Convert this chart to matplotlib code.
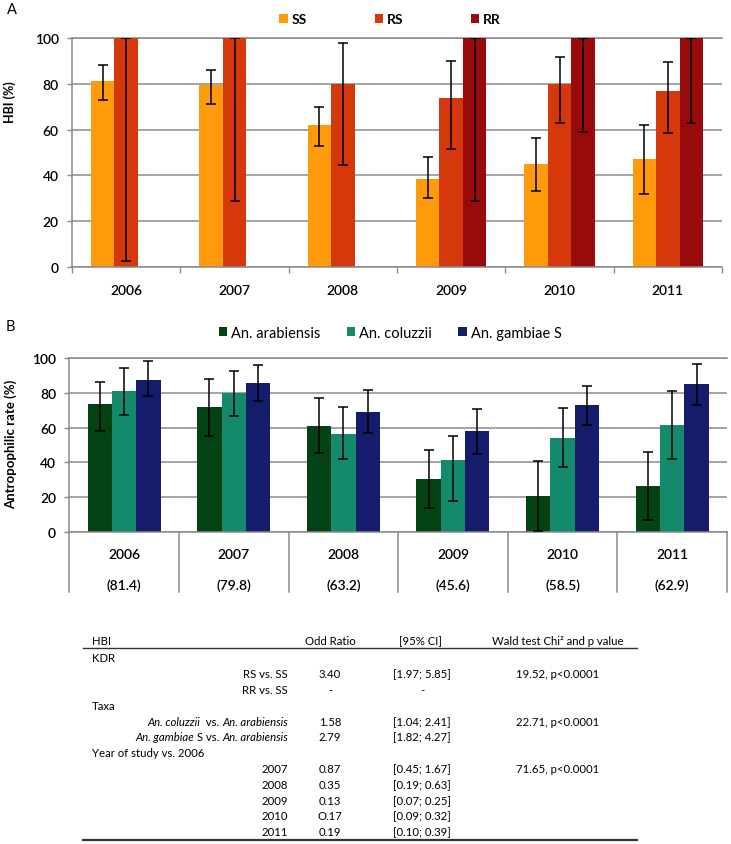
import numpy as np
import matplotlib.pyplot as plt
from matplotlib.lines import Line2D

plt.rcParams['font.family'] = ['Lato', 'DejaVu Sans']

W, H = 731, 845
nan = np.nan

years = ['2006', '2007', '2008', '2009', '2010', '2011']
overall_rate = ['(81.4)', '(79.8)', '(63.2)', '(45.6)', '(58.5)', '(62.9)']

# panel A: HBI by kdr genotype, with 95% CI bounds
ss = [81.4, 79.3, 62.0, 38.5, 45.0, 47.0]
ss_lo = [73.0, 71.0, 53.0, 30.0, 33.0, 32.0]
ss_hi = [88.0, 86.0, 70.0, 48.0, 56.5, 62.0]
rs = [100, 100, 80.0, 74.0, 80.0, 76.7]
rs_lo = [2.5, 29.0, 44.5, 51.5, 63.0, 58.5]
rs_hi = [100, 100, 98.0, 90.0, 91.5, 89.5]
rr = [nan, nan, nan, 100, 100, 100]
rr_lo = [nan, nan, nan, 29.0, 59.0, 63.0]
rr_hi = [nan, nan, nan, 100, 100, 100]

# panel B: antropophilic rate by taxon
arab = [73.5, 72.0, 61.2, 30.4, 20.7, 26.3]
arab_lo = [58.0, 55.3, 45.2, 13.7, 0.4, 6.7]
arab_hi = [86.2, 88.3, 77.0, 47.3, 41.0, 46.0]
colu = [81.0, 80.0, 56.3, 41.2, 54.3, 61.8]
colu_lo = [67.5, 67.0, 41.7, 17.9, 37.4, 41.7]
colu_hi = [94.5, 92.5, 72.0, 55.4, 71.2, 81.4]
gamb = [87.7, 86.0, 68.8, 57.9, 72.9, 85.0]
gamb_lo = [78.0, 75.5, 56.7, 44.6, 61.6, 73.0]
gamb_hi = [98.5, 96.0, 81.7, 70.8, 84.0, 96.7]

# table of the logistic model
row_labels = ['KDR', 'RS vs. SS', 'RR vs. SS', 'Taxa', 'coluzzii', 'gambiae',
              'Year of study vs. 2006', '2007', '2008', '2009', '2010', '2011']
odds = ['', '3.40', '-', '', '1.58', '2.79', '', '0.87', '0.35', '0.13', 'O.17', '0.19']
ci = ['', '[1.97; 5.85]', '-', '', '[1.04; 2.41]', '[1.82; 4.27]', '',
      '[0.45; 1.67]', '[0.19; 0.63]', '[0.07; 0.25]', '[0.09; 0.32]', '[0.10; 0.39]']
wald = ['', '19.52, p<0.0001', '', '', '22.71, p<0.0001', '', '', '71.65, p<0.0001',
        '', '', '', '']

grid_col = '#8a8a8a'


def frac(x0, y0, x1, y1):
    return [x0 / W, 1 - y1 / H, (x1 - x0) / W, (y1 - y0) / H]


def style_axes(ax):
    ax.set_xlim(-0.5, 5.5)
    ax.set_ylim(0, 100)
    ax.set_yticks(range(0, 101, 20))
    ax.yaxis.grid(True, color=grid_col, lw=1.1)
    ax.set_axisbelow(True)
    ax.spines['right'].set_visible(False)
    for s in ['top', 'left', 'bottom']:
        ax.spines[s].set_color(grid_col)
        ax.spines[s].set_linewidth(1.1)
    ax.spines['top'].set_zorder(0.6)
    ax.tick_params(axis='y', length=3.5, width=1, color=grid_col, pad=6,
                   labelsize=10)
    for lab in ax.get_yticklabels():
        lab.set_fontweight('semibold')


def bars(ax, values, lows, highs, colors, labels, w):
    x = np.arange(len(years))
    handles = []
    for k, (v, lo, hi, c, lab) in enumerate(zip(values, lows, highs, colors, labels)):
        v = np.array(v, dtype=float)
        xs = x + (k - 1) * w
        b = ax.bar(xs, v, width=w, color=c, label=lab, zorder=1)
        handles.append(b)
        err = [v - np.array(lo), np.array(hi) - v]
        ax.errorbar(xs, v, yerr=err, fmt='none', ecolor='black', elinewidth=1.1,
                    capsize=3.5, capthick=1.1, zorder=3)
    return handles


fig = plt.figure(figsize=(W / 100, H / 100), dpi=100)

# ---------------- panel A ----------------
axA = fig.add_axes(frac(72, 39, 722, 268))
hA = bars(axA, [ss, rs, rr], [ss_lo, rs_lo, rr_lo], [ss_hi, rs_hi, rr_hi],
          ['#FF9A0A', '#D5380A', '#990A0A'], ['SS', 'RS', 'RR'], 0.217)
style_axes(axA)
axA.set_xticks(range(len(years)))
axA.set_xticklabels(years, fontsize=10, fontweight='semibold')
axA.tick_params(axis='x', which='major', length=0, pad=12)
axA.set_xticks(np.arange(-0.5, 6, 1), minor=True)
axA.tick_params(axis='x', which='minor', length=4, width=1, color=grid_col)
legA = axA.legend(handles=hA, ncol=3, loc='center', bbox_to_anchor=(390 / W, 1 - 20 / H),
                  bbox_transform=fig.transFigure, frameon=False, handlelength=0.6,
                  handleheight=0.6, handletextpad=0.25, columnspacing=4.9,
                  prop={'size': 10, 'weight': 'bold'})
fig.text(10 / W, 1 - 102 / H, 'HBI (%)', rotation=90, ha='center', va='center',
         fontsize=9, fontweight='bold')
fig.text(12 / W, 1 - 10 / H, 'A', ha='center', va='center', fontsize=10.5)

# ---------------- panel B ----------------
yb0, yb1 = 359.3, 532.7
axB = fig.add_axes(frac(69.3, yb0, 727, yb1))
hB = bars(axB, [arab, colu, gamb], [arab_lo, colu_lo, gamb_lo],
          [arab_hi, colu_hi, gamb_hi], ['#034212', '#138A6B', '#141C6B'],
          ['An. arabiensis', 'An. coluzzii', 'An. gambiae S'], 0.222)
style_axes(axB)
axB.set_xticks([])
legB = axB.legend(handles=hB, ncol=3, loc='center', bbox_to_anchor=(390 / W, 1 - 334 / H),
                  bbox_transform=fig.transFigure, frameon=False, handlelength=0.6,
                  handleheight=0.6, handletextpad=0.25, columnspacing=1.8,
                  prop={'size': 10.5})
fig.text(11 / W, 1 - 444 / H, 'Antropophilic rate (%)', rotation=90, ha='center',
         va='center', fontsize=9.5, fontweight='bold')
fig.text(10 / W, 1 - 327 / H, 'B', ha='center', va='center', fontsize=10.5)


def yb(py):
    return (yb1 - py) / (yb1 - yb0)


tr = axB.get_xaxis_transform()
for i, (yr, r) in enumerate(zip(years, overall_rate)):
    axB.text(i, yb(554), yr, transform=tr, ha='center', va='center_baseline',
             fontsize=10, fontweight='semibold', clip_on=False)
    axB.text(i, yb(585), r, transform=tr, ha='center', va='center_baseline',
             fontsize=10, fontweight='semibold', clip_on=False)
for xb in np.arange(-0.5, 6, 1):
    axB.plot([xb, xb], [0, yb(593)], transform=tr, color=grid_col, lw=1.1,
             clip_on=False)

# ---------------- table ----------------
axT = fig.add_axes([0, 0, 1, 1])
axT.set_xlim(0, W)
axT.set_ylim(H, 0)
axT.axis('off')
fs = 8.2
tcol = 'black'
axT.text(92, 641, 'HBI', ha='left', va='center_baseline', fontsize=fs, color=tcol)
axT.text(330, 641, 'Odd Ratio', ha='center', va='center_baseline', fontsize=fs, color=tcol)
axT.text(420, 641, '[95% CI]', ha='center', va='center_baseline', fontsize=fs, color=tcol)
axT.text(558, 641, 'Wald test Chi² and p value', ha='center', va='center_baseline',
         fontsize=fs, color=tcol)
axT.add_line(Line2D([82.7, 637], [648.5, 648.5], color='#333333', lw=1.0))
axT.add_line(Line2D([82.7, 637], [841, 841], color='#333333', lw=1.6))

groups = {'KDR', 'Taxa', 'Year of study vs. 2006'}
for k, lab in enumerate(row_labels):
    y = 658 + 15.8 * k
    if lab in groups:
        axT.text(92, y, lab, ha='left', va='center_baseline', fontsize=fs, color=tcol)
    elif lab == 'coluzzii':
        parts = [('An. arabiensis', 'italic'), ('  vs. ', 'normal'), ('An. coluzzii', 'italic')]
    elif lab == 'gambiae':
        parts = [('An. arabiensis', 'italic'), (' S vs. ', 'normal'), ('An. gambiae', 'italic')]
    else:
        parts = [(lab, 'normal')]
    if lab not in groups:
        prev = axT.text(287.7, y, parts[0][0], ha='right', va='center_baseline',
                        fontsize=fs, style=parts[0][1], color=tcol)
        for txt, st in parts[1:]:
            prev = axT.annotate(txt, xy=(0, 0), xycoords=prev, ha='right', va='bottom',
                                fontsize=fs, style=st, color=tcol)
    axT.text(330, y, odds[k], ha='center', va='center_baseline', fontsize=fs, color=tcol)
    axT.text(422, y, ci[k], ha='center', va='center_baseline', fontsize=fs, color=tcol)
    axT.text(558, y, wald[k], ha='center', va='center_baseline', fontsize=fs, color=tcol)

fig.savefig('out.png', dpi=100)
